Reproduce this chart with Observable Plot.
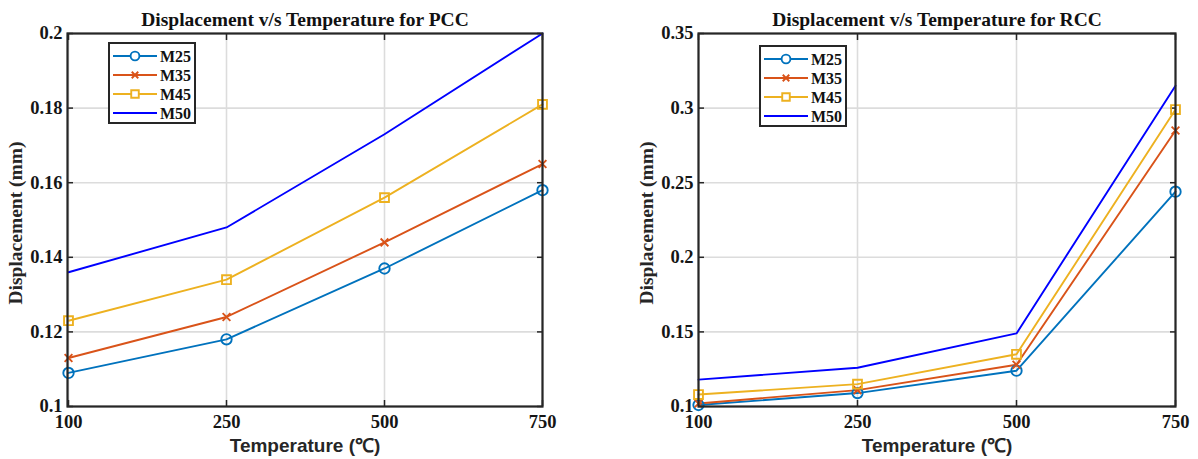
<!DOCTYPE html>
<html>
<head>
<meta charset="utf-8">
<script src="https://cdn.jsdelivr.net/npm/d3@7"></script>
<script src="https://cdn.jsdelivr.net/npm/@observablehq/plot@0.6"></script>
<style>
  body { margin: 0; background: #fff; }
  #fig { position: relative; width: 1198px; height: 459px; overflow: hidden; }
  .panel { position: absolute; top: 0; width: 599px; height: 459px; }
  .legend { position: absolute; overflow: visible; }
</style>
</head>
<body>
<div id="fig"></div>
<script>
// Temperatures (°C) on the horizontal axis, evenly spaced categories
const temperatures = ["100", "250", "500", "750"];
const mixes = ["M25", "M35", "M45", "M50"];
const mixColors = ["#0072BD", "#D95319", "#EDB120", "#0000FF"];
const mixSymbols = ["circle", "times", "square", null];

// Displacement (mm) for plain cement concrete
const pccM25 = [0.109, 0.118, 0.137, 0.158];
const pccM35 = [0.113, 0.124, 0.144, 0.165];
const pccM45 = [0.123, 0.134, 0.156, 0.181];
const pccM50 = [0.136, 0.148, 0.173, 0.200];

// Displacement (mm) for reinforced cement concrete
const rccM25 = [0.101, 0.109, 0.124, 0.244];
const rccM35 = [0.102, 0.111, 0.128, 0.285];
const rccM45 = [0.108, 0.115, 0.135, 0.299];
const rccM50 = [0.118, 0.126, 0.149, 0.315];

const pccTicks = [0.1, 0.12, 0.14, 0.16, 0.18, 0.2];
const rccTicks = [0.1, 0.15, 0.2, 0.25, 0.3, 0.35];

const serif = "'Liberation Serif', 'Times New Roman', serif";
const sans = "'Liberation Sans', Arial, sans-serif";
const ink = "#262626";

function markerSize(sym) {
  return sym === "circle" ? 5.2 : sym === "square" ? 5 : 3.6;
}

function panel({title, series, yDomain, yTicks, marginLeft, marginRight}) {
  const rows = series.flatMap((vals, i) =>
    vals.map((v, j) => ({mix: mixes[i], t: temperatures[j], v})));
  const blank = () => "";
  const marks = [
    Plot.gridX(temperatures, {x: d => d, stroke: "#dcdcdc", strokeOpacity: 1, strokeWidth: 1.6}),
    Plot.gridY(yTicks, {y: d => d, stroke: "#dcdcdc", strokeOpacity: 1, strokeWidth: 1.6}),
    Plot.axisX({anchor: "bottom", tickSize: 0, tickPadding: 8, label: null, fontSize: 18.5, fontWeight: "bold", fill: "#151515"}),
    Plot.axisY(yTicks, {anchor: "left", tickSize: 0, tickPadding: 5, label: null, fontSize: 18.5, fontWeight: "bold", fill: "#151515", tickFormat: d => String(d)}),
    // inward ticks on all four sides of the box
    Plot.axisX({anchor: "bottom", tickSize: -6, tickFormat: blank, label: null, stroke: ink, strokeWidth: 1.5}),
    Plot.axisX({anchor: "top", tickSize: -6, tickFormat: blank, label: null, stroke: ink, strokeWidth: 1.5}),
    Plot.axisY(yTicks, {anchor: "left", tickSize: -6, tickFormat: blank, label: null, stroke: ink, strokeWidth: 1.5}),
    Plot.axisY(yTicks, {anchor: "right", tickSize: -6, tickFormat: blank, label: null, stroke: ink, strokeWidth: 1.5}),
    Plot.line(rows, {x: "t", y: "v", z: "mix", stroke: "mix", strokeWidth: 1.9}),
    ...mixes.map((m, i) => mixSymbols[i] ? Plot.dot(rows.filter(d => d.mix === m), {
      x: "t", y: "v", stroke: mixColors[i], fill: "none", symbol: mixSymbols[i],
      r: markerSize(mixSymbols[i]), strokeWidth: 1.9
    }) : null),
    Plot.frame({stroke: ink, strokeWidth: 2.2}),
    Plot.text([title], {text: d => d, frameAnchor: "top", lineAnchor: "middle", textAnchor: "middle", dy: -14, fontSize: 19.5, fontWeight: "bold", fill: "#111"}),
    Plot.text(["Temperature (\u2103)"], {text: d => d, frameAnchor: "bottom", lineAnchor: "middle", textAnchor: "middle", dy: 39, fontFamily: sans, fontSize: 19, fontWeight: "bold", fill: ink}),
    Plot.text(["Displacement (mm)"], {text: d => d, frameAnchor: "left", lineAnchor: "middle", textAnchor: "middle", rotate: -90, dx: -52, dy: 3, fontSize: 19.5, fontWeight: "bold", fill: ink})
  ];
  return Plot.plot({
    width: 599, height: 459,
    marginTop: 33, marginBottom: 53, marginLeft, marginRight,
    style: {fontFamily: serif, fontWeight: "bold", fontSize: "18px", color: ink, background: "white", overflow: "visible"},
    x: {type: "point", domain: temperatures, padding: 0},
    y: {domain: yDomain},
    color: {domain: mixes, range: mixColors},
    marks
  });
}

function legend(container, left, top) {
  const w = 88, h = 82, rowGap = 19;
  const svg = d3.select(container).append("svg")
    .attr("class", "legend")
    .attr("width", w).attr("height", h)
    .style("left", left + "px").style("top", top + "px");
  svg.append("rect").attr("x", 1).attr("y", 1).attr("width", w - 2).attr("height", h - 2)
    .attr("fill", "white").attr("stroke", ink).attr("stroke-width", 2);
  mixes.forEach((m, i) => {
    const y = 14 + i * rowGap;
    const g = svg.append("g").attr("transform", `translate(0,${y})`);
    g.append("line").attr("x1", 5).attr("x2", 49).attr("y1", 0).attr("y2", 0)
      .attr("stroke", mixColors[i]).attr("stroke-width", 1.9);
    const sym = mixSymbols[i];
    if (sym) {
      const s = {circle: d3.symbolCircle, times: d3.symbolTimes, square: d3.symbolSquare}[sym];
      const r = markerSize(sym) * 0.85;
      g.append("path").attr("transform", "translate(27,0)")
        .attr("d", d3.symbol(s, Math.PI * r * r)())
        .attr("fill", "white").attr("stroke", mixColors[i]).attr("stroke-width", 1.9);
    }
    g.append("text").attr("x", 52).attr("y", 0).attr("dy", "0.35em")
      .attr("font-family", serif).attr("font-weight", "bold").attr("font-size", 16)
      .attr("fill", "#111").text(m);
  });
}

const fig = document.getElementById("fig");

const left = document.createElement("div");
left.className = "panel"; left.style.left = "0px";
left.appendChild(panel({
  title: "Displacement v/s Temperature for PCC",
  series: [pccM25, pccM35, pccM45, pccM50],
  yDomain: [0.1, 0.2], yTicks: pccTicks,
  marginLeft: 67, marginRight: 57
}));
fig.appendChild(left);
legend(left, 108, 42);

const right = document.createElement("div");
right.className = "panel"; right.style.left = "599px";
right.appendChild(panel({
  title: "Displacement v/s Temperature for RCC",
  series: [rccM25, rccM35, rccM45, rccM50],
  yDomain: [0.1, 0.35], yTicks: rccTicks,
  marginLeft: 99, marginRight: 23
}));
fig.appendChild(right);
legend(right, 160, 45);
</script>
</body>
</html>
